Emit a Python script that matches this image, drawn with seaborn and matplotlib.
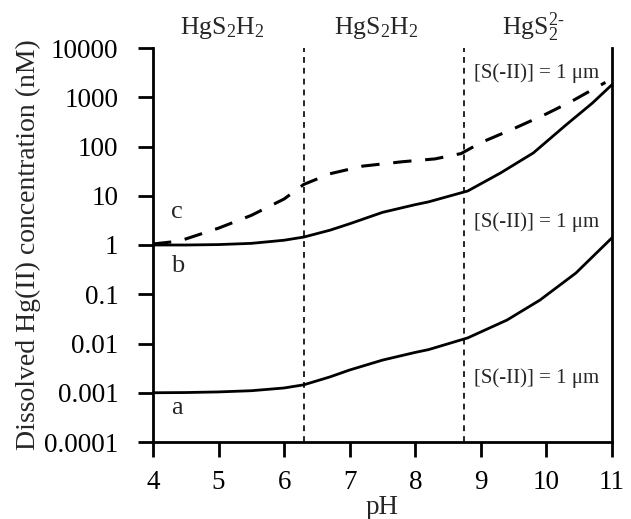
import matplotlib
matplotlib.use("Agg")
import matplotlib.pyplot as plt
import seaborn as sns
import numpy as np
import pandas as pd
from matplotlib.ticker import FixedLocator, FixedFormatter, NullLocator

# ---- data ----
ph_a = [4.0, 4.5, 5.0, 5.5, 6.0, 6.3, 6.7, 7.0, 7.5, 8.0, 8.2, 8.8, 9.4, 9.9, 10.45, 11.0]
val_a = [0.001, 0.00101, 0.00104, 0.0011, 0.00125, 0.00145, 0.0021, 0.0029, 0.0046, 0.0066,
         0.0075, 0.013, 0.030, 0.076, 0.27, 1.4]

ph_b = [4.0, 4.5, 5.0, 5.5, 6.0, 6.3, 6.7, 7.0, 7.5, 8.0, 8.2, 8.8, 9.3, 9.8, 10.3, 10.7, 11.0]
val_b = [1.0, 1.0, 1.02, 1.08, 1.25, 1.45, 2.0, 2.7, 4.6, 6.6, 7.5, 12.5, 29, 74, 275, 760, 1800]

ph_c = [4.0, 4.4, 5.0, 5.5, 6.0, 6.3, 6.7, 7.2, 7.8, 8.3, 8.7, 9.0, 9.5, 10.0, 10.4, 10.75, 10.9]
val_c = [1.05, 1.2, 2.2, 4.0, 8.6, 17, 28, 40, 49, 56, 72, 120, 230, 460, 850, 1550, 2000]

boundaries = [6.3, 8.75]
x_ticks = [4, 5, 6, 7, 8, 9, 10, 11]
y_ticks = [0.0001, 0.001, 0.01, 0.1, 1, 10, 100, 1000, 10000]
y_tick_labels = ["0.0001", "0.001", "0.01", "0.1", "1", "10", "100", "1000", "10000"]

species = ["HgS$_2$H$_2$", "HgS$_2$H$_2$", "HgS$_2^{2\\text{-}}$"]
species_x = [5.05, 7.4, 9.8]
sulfide_label = "[S(-II)] = 1 μm"
sulfide_y = [3100, 2.9, 0.002]
curve_names = ["c", "b", "a"]
curve_label_y = [4.7, 0.38, 0.00048]

# ---- style ----
sns.set_style("ticks")
plt.rcParams["font.family"] = ["Liberation Serif", "DejaVu Serif"]
plt.rcParams["mathtext.fontset"] = "custom"
plt.rcParams["mathtext.rm"] = "Liberation Serif"
plt.rcParams["mathtext.it"] = "Liberation Serif:italic"
plt.rcParams["mathtext.bf"] = "Liberation Serif:bold"

fig = plt.figure(figsize=(6.31, 5.19), dpi=100)
ax = fig.add_axes([153 / 631, 1 - 442 / 519, (612 - 153) / 631, (442 - 48) / 519])

df_a = pd.DataFrame({"pH": ph_a, "conc": val_a})
df_b = pd.DataFrame({"pH": ph_b, "conc": val_b})
df_c = pd.DataFrame({"pH": ph_c, "conc": val_c})

sns.lineplot(data=df_a, x="pH", y="conc", ax=ax, color="black", lw=2.0, sort=False, estimator=None)
sns.lineplot(data=df_b, x="pH", y="conc", ax=ax, color="black", lw=2.0, sort=False, estimator=None)
sns.lineplot(data=df_c, x="pH", y="conc", ax=ax, color="black", lw=2.2, sort=False,
             estimator=None, dashes=False, linestyle=(0, (6, 4.5)))

for b in boundaries:
    ax.axvline(b, color="black", lw=1.2, ls=(0, (3.5, 3)))

ax.set_yscale("log")
ax.set_xlim(4, 11)
ax.set_ylim(1e-4, 1e4)

ax.xaxis.set_major_locator(FixedLocator(x_ticks))
ax.yaxis.set_major_locator(FixedLocator(y_ticks))
ax.yaxis.set_major_formatter(FixedFormatter(y_tick_labels))
ax.yaxis.set_minor_locator(NullLocator())
ax.xaxis.set_minor_locator(NullLocator())

ax.tick_params(axis="both", direction="out", length=11, width=2, labelsize=19.5, color="black",
               labelcolor="black")
ax.tick_params(axis="x", pad=9)
ax.tick_params(axis="y", pad=14)

for side in ["left", "bottom", "right"]:
    ax.spines[side].set_visible(True)
    ax.spines[side].set_linewidth(2)
    ax.spines[side].set_color("black")
ax.spines["top"].set_visible(False)

ax.set_xlabel("pH", fontsize=19.5, labelpad=0)
ax.set_ylabel("Dissolved Hg(II) concentration (nM)", fontsize=20, labelpad=2)
ax.set_facecolor("white")
fig.patch.set_facecolor("white")

for name, x in zip(species, species_x):
    ax.text(x, 1.052, name, transform=ax.get_xaxis_transform(), ha="center", va="center",
            fontsize=18.5)

for y in sulfide_y:
    ax.text(8.9, y, sulfide_label, ha="left", va="center", fontsize=15)

for name, y in zip(curve_names, curve_label_y):
    ax.text(4.27, y, name, ha="left", va="center", fontsize=19)

fig.savefig("out.png", dpi=100)
